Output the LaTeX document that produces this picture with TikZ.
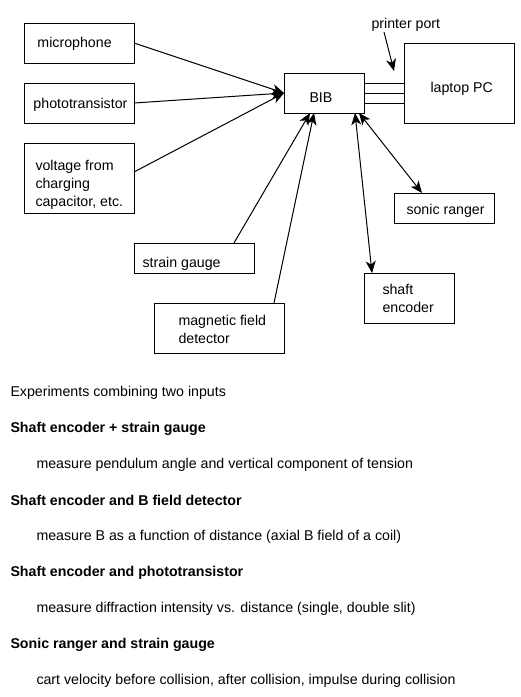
\documentclass[tikz,border=0pt]{standalone}
\usepackage{fontspec}
\setmainfont{Liberation Sans}
\usetikzlibrary{arrows.meta,calc}
\begin{document}
\begin{tikzpicture}[x=1pt,y=-1pt,line width=1pt,
  every node/.style={font=\fontsize{14.2}{18}\selectfont},
  box/.style={draw,outer sep=0pt,inner sep=0pt,minimum width=#1},
  txt/.style={anchor=west,inner sep=0pt,align=left,yshift=-1.5pt},
  arr/.style={-{Stealth[length=12pt,width=10pt,inset=3.5pt]}},
  dbl/.style={{Stealth[length=12pt,width=10pt,inset=3.5pt]}-{Stealth[length=12pt,width=10pt,inset=3.5pt]}}]
\useasboundingbox[fill=white] (0,0) rectangle (521,697);
% boxes
\node[box=110pt,minimum height=40pt] (mic) at (79,43) {};
\node[box=110pt,minimum height=40pt] (photo) at (79,103) {};
\node[box=110pt,minimum height=70pt] (volt) at (79,178) {};
\node[box=80pt,minimum height=40pt] (bib) at (324,93) {};
\node[box=110pt,minimum height=80pt] (laptop) at (459,83) {};
\node[box=100pt,minimum height=30pt] (sonic) at (444,208) {};
\node[box=120pt,minimum height=30pt] (strain) at (194,258) {};
\node[box=130pt,minimum height=50pt] (mag) at (219,328) {};
\node[box=90pt,minimum height=50pt] (shaft) at (409,298) {};
% labels
\node[txt] (micT) at (37,42) {microphone};
\node[txt] (photoT) at (33,103) {phototransistor};
\node[txt] (voltT) at (35,183) {voltage from\\charging\\capacitor, etc.};
\node[txt] (bibT) at (309,96) {BIB};
\node[txt] (laptopT) at (430,87) {laptop PC};
\node[txt] (pp) at (371,23) {printer port};
\node[txt] (sonicT) at (406,209) {sonic ranger};
\node[txt] (strainT) at (142,262) {strain gauge};
\node[txt] (magT) at (178,328) {magnetic field\\detector};
\node[txt] (shaftT) at (382,297) {shaft\\encoder};
% connectors
\draw[arr] (mic.east) -- (bib.west);
\draw[arr] (photo.east) -- (bib.west);
\draw[arr] ([yshift=6pt]volt.east) -- (bib.west);
\draw[arr] ([xshift=40pt]strain.north) -- ([xshift=-14pt]bib.south);
\draw[arr] ([xshift=55pt]mag.north) -- ([xshift=-10pt]bib.south);
\draw[dbl] ([xshift=31pt]bib.south) -- ([xshift=-37pt]shaft.north);
\draw[dbl] ([xshift=35pt]bib.south) -- ([xshift=-22pt]sonic.north);
\coordinate (pptail) at (384,32);
\coordinate (pptip) at (394,71);
\draw[arr] (pptail) -- (pptip);
\path ([yshift=10pt]bib.east) coordinate (b1)
      (bib.east) coordinate (b2)
      ([yshift=-10pt]bib.east) coordinate (b3);
\draw (b1) -- (b1 -| laptop.west);
\draw (b2) -- (b2 -| laptop.west);
\draw (b3) -- (b3 -| laptop.west);
% text below
\node[txt] (h0) at (10,391) {Experiments combining two inputs};
\node[txt,font=\fontsize{14.2}{18}\selectfont\bfseries] (h1) at (10,427) {Shaft encoder + strain gauge};
\node[txt] (d1) at (36,463) {measure pendulum angle and vertical component of tension};
\node[txt,font=\fontsize{14.2}{18}\selectfont\bfseries] (h2) at (10,499) {Shaft encoder and B field detector};
\node[txt] (d2) at (36,535) {measure B as a function of distance (axial B field of a coil)};
\node[txt,font=\fontsize{14.2}{18}\selectfont\bfseries] (h3) at (10,571) {Shaft encoder and phototransistor};
\node[txt] (d3) at (36,607) {measure diffraction intensity vs. distance (single, double slit)};
\node[txt,font=\fontsize{14.2}{18}\selectfont\bfseries] (h4) at (10,643) {Sonic ranger and strain gauge};
\node[txt] (d4) at (36,679) {cart velocity before collision, after collision, impulse during collision};
\end{tikzpicture}
\end{document}
